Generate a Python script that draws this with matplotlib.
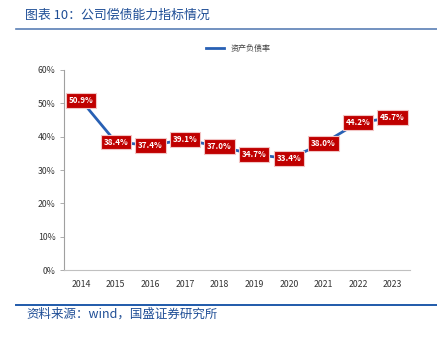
import matplotlib
matplotlib.use("Agg")
import matplotlib.pyplot as plt
from matplotlib.lines import Line2D

plt.rcParams['font.family'] = ['Noto Sans CJK SC', 'DejaVu Sans']

years = ["2014", "2015", "2016", "2017", "2018", "2019", "2020", "2021", "2022", "2023"]
debt_ratio = [50.9, 38.4, 37.4, 39.1, 37.0, 34.7, 33.4, 38.0, 44.2, 45.7]
yticks = [0, 10, 20, 30, 40, 50, 60]

line_color = '#2860B4'
box_color = '#C00000'
head_color = '#1F4E96'

fig = plt.figure(figsize=(4.37, 3.38), dpi=100)
ax = fig.add_axes([0.146, 0.201, 0.792, 0.592])

x = list(range(len(years)))
ax.plot(x, debt_ratio, color=line_color, lw=2.0, zorder=2)

for xi, v in zip(x, debt_ratio):
    ax.text(xi, v, f"{v:.1f}%", ha='center', va='center', fontsize=5.8,
            color='white', fontweight='bold', zorder=3,
            bbox=dict(boxstyle='square,pad=0.35', fc=box_color, ec='#F2C4C4', lw=0.8))

ax.set_xlim(-0.5, len(years) - 0.5)
ax.set_ylim(0, 60)
ax.set_yticks(yticks)
ax.set_yticklabels([f"{t}%" for t in yticks])
ax.set_xticks(x)
ax.set_xticklabels(years)
ax.tick_params(axis='y', labelsize=6.3, length=3, width=0.6, direction='out', pad=3,
               colors='#A0A0A0', labelcolor='#333333')
ax.tick_params(axis='x', labelsize=6.3, labelcolor='#333333', length=0, pad=7)
for s in ['top', 'right']:
    ax.spines[s].set_visible(False)
ax.spines['left'].set_color('#A0A0A0')
ax.spines['bottom'].set_color('#C0C0C0')
ax.spines['left'].set_linewidth(0.8)
ax.spines['bottom'].set_linewidth(0.8)

handle = Line2D([], [], color=line_color, lw=2.0)
fig.legend([handle], ["资产负债率"], loc='center', bbox_to_anchor=(0.545, 0.858),
           frameon=False, fontsize=5.8, handlelength=2.2, labelcolor='#404040')

fig.text(0.057, 0.955, "图表 10：公司偿债能力指标情况", fontsize=9.3, color=head_color,
         ha='left', va='center', style='italic')
fig.add_artist(Line2D([0.037, 1.0], [0.914, 0.914], color='#5A7FB5', lw=1.2))
fig.add_artist(Line2D([0.037, 1.0], [0.098, 0.098], color='#1F5AAA', lw=1.4))
fig.text(0.06, 0.072, "资料来源：wind，国盛证券研究所", fontsize=9, color=head_color,
         ha='left', va='center', style='italic')

fig.savefig("out.png", dpi=100)
